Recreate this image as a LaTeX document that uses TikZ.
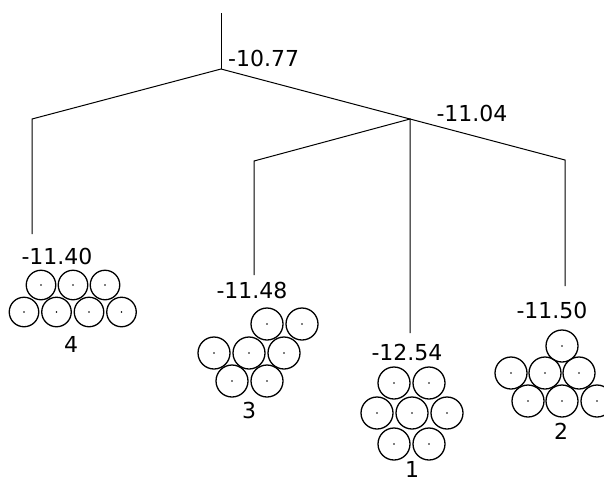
\documentclass[tikz,border=0pt]{standalone}
\usepackage{fontspec}
\setmainfont{DejaVu Sans}
\begin{document}
\begin{tikzpicture}[x=1pt,y=-1pt,
  link/.style={line width=1pt, black},
  ballA/.style={circle, draw, line width=1.3pt, minimum size=29.5pt, inner sep=0pt},
  ballB/.style={circle, draw, line width=1.3pt, minimum size=32pt, inner sep=0pt},
  score/.style={font=\fontsize{22}{26}\selectfont, inner sep=0pt},
  pip/.style={fill=black, circle, inner sep=0pt, minimum size=1.6pt}]
\useasboundingbox (0,0) rectangle (604,483);
\clip (0,0) rectangle (604,483);
% tree coordinates
\coordinate (top) at (221,13);
\coordinate (r) at (221,69);
\coordinate (j4) at (32,119);
\coordinate (j) at (410,119);
\coordinate (j3) at (254,161);
\coordinate (j2) at (565,160);
\coordinate (e4) at (32,234);
\coordinate (e3) at (254,275);
\coordinate (e1) at (410,333);
\coordinate (e2) at (565,286);
\draw[link] (top) -- (r);
\draw[link] (e4) -- (j4) -- (r) -- (j) -- (j2) -- (e2);
\draw[link] (e3) -- (j3) -- (j) -- (e1);
% scores
\node[score, anchor=west] (s0) at (228,58) {-10.77};
\node[score] (s5) at (472,113) {-11.04};
\node[score] (s4) at (57,256) {-11.40};
\node[score] (s3) at (252,290) {-11.48};
\node[score] (s1) at (407,352) {-12.54};
\node[score] (s2) at (552,310) {-11.50};
% leaf 4
\foreach \x [count=\i] in {41,73,105} {
  \node[ballA] (a\i) at (\x,285) {}; \node[pip] at (a\i) {};}
\foreach \x [count=\i] in {24,56.5,89,121.5} {
  \node[ballA] (b\i) at (\x,312) {}; \node[pip] at (b\i) {};}
\node[score] (n4) at (71,344) {4};
% leaf 3
\foreach \x/\y [count=\i] in {267/324,302/324,214/353,249/353,284/353,232/381,267/381} {
  \node[ballB] (c\i) at (\x,\y) {}; \node[pip] at (c\i) {};}
\node[score] (n3) at (249,410) {3};
% leaf 1
\foreach \x/\y [count=\i] in {394/383,429/383,377/413,412/413,447/413,394/444,429/444} {
  \node[ballB] (d\i) at (\x,\y) {}; \node[pip] at (d\i) {};}
\node[score] (n1) at (412,469) {1};
% leaf 2
\foreach \x/\y [count=\i] in {562/346,511/373,545/373,579/373,528/401,562/401,597/401} {
  \node[ballB] (f\i) at (\x,\y) {}; \node[pip] at (f\i) {};}
\node[score] (n2) at (561,431) {2};
\end{tikzpicture}
\end{document}
